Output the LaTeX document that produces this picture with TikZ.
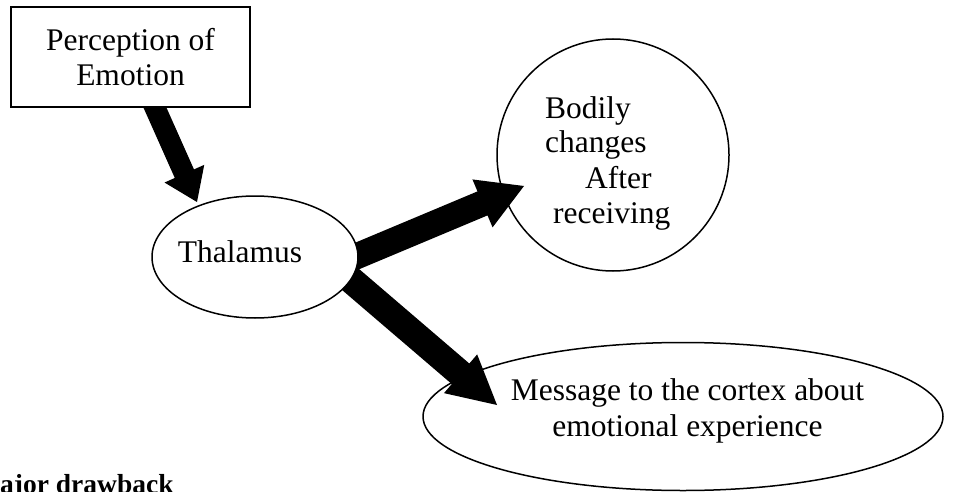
\documentclass[tikz,border=0pt]{standalone}
\usepackage{fontspec}
\setmainfont{Liberation Serif}
\usetikzlibrary{shapes.geometric,calc,backgrounds}
\tikzset{
  outline/.style={draw=black,line width=1.5pt},
  txt/.style={font=\fontsize{31.5}{35.5}\selectfont,inner sep=0pt},
  arrowfill/.style={fill=black},
}
% #1 start, #2 tip, #3 shaft half width, #4 head half width, #5 head length
\newcommand\blockarrow[5]{%
  \path ($(#2)!#5!(#1)$) coordinate (bahead);
  \fill[arrowfill] ($(#1)!#3!90:(#2)$) -- ($(bahead)!#3!90:(#2)$) -- ($(bahead)!#4!90:(#2)$)
    -- (#2) -- ($(bahead)!#4!-90:(#2)$) -- ($(bahead)!#3!-90:(#2)$) -- ($(#1)!#3!-90:(#2)$) -- cycle;
}
\begin{document}
\begin{tikzpicture}[x=1pt,y=-1pt]
\useasboundingbox (0,0) rectangle (971,492);
\node[outline, fill=white, rectangle, minimum width=239pt, minimum height=100pt, txt, align=center] (perc) at (130.5,57) {Perception of\\Emotion};
\node[outline, fill=white, ellipse, minimum width=206pt, minimum height=122pt, inner sep=0pt] (thal) at (255,257) {};
\node[txt, anchor=base] (thaltext) at (240,262) {Thalamus};
\node[outline, circle, minimum size=232pt, inner sep=0pt] (body) at (613,155) {};
\node[txt, anchor=base west] (b1) at (545,118) {Bodily};
\node[txt, anchor=base west] (b2) at (545,152) {changes};
\node[txt, anchor=base west] (b3) at (585,188) {After};
\node[txt, anchor=base west] (b4) at (553,223) {receiving};
\node[outline, ellipse, minimum width=520pt, minimum height=148pt, inner sep=0pt] (msg) at (683,416.5) {};
\node[txt, align=center] (msgtext) at (687.5,410.7) {Message to the cortex about\\emotional experience};
\node[font=\bfseries\fontsize{27.5}{31}\selectfont, inner sep=0pt, anchor=base west] (drawback) at (-26,493) {Major drawback};
\coordinate (a1s) at ([shift={(19.5,39.5)}]perc.center);
\coordinate (a1t) at ([shift={(-58,-55)}]thal.center);
\coordinate (a2s) at ([shift={(92.8,2.9)}]thal.center);
\coordinate (a2t) at ([shift={(-89,31)}]body.center);
\coordinate (a3s) at ([shift={(87.4,15.5)}]thal.center);
\coordinate (a3t) at ([shift={(-186,-11.5)}]msg.center);
\begin{pgfonlayer}{background}
\blockarrow{a1s}{a1t}{10.5pt}{21.75pt}{31pt}
\blockarrow{a2s}{a2t}{13pt}{26pt}{45pt}
\blockarrow{a3s}{a3t}{13.5pt}{25.5pt}{48pt}
\end{pgfonlayer}
\end{tikzpicture}
\end{document}
